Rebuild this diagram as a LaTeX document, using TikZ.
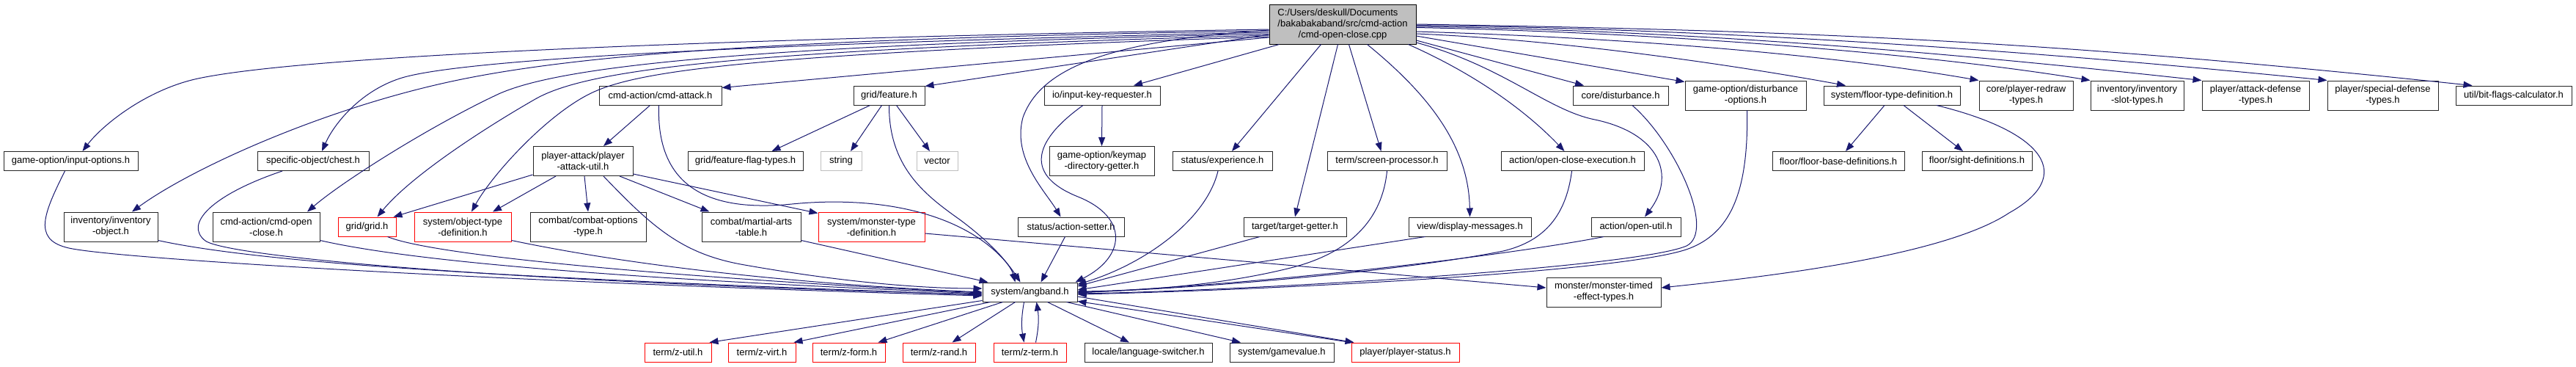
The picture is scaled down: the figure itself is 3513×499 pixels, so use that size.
\documentclass[tikz,border=0pt]{standalone}
\usepackage{fontspec}
\setmainfont{Liberation Sans}
\usetikzlibrary{arrows.meta}
\definecolor{edgeblue}{HTML}{191970}
\definecolor{rootgray}{HTML}{BFBFBF}
\tikzset{
    hdr/.style={
        draw=black!85, line width=1pt, fill=white,
        inner sep=0pt, minimum height=26pt, align=center,
        font=\fontsize{13}{15}\selectfont
    },
    hdrtwo/.style={hdr, minimum height=40pt},
    redhdr/.style={draw=red},
    grayhdr/.style={draw=rootgray},
    roothdr/.style={hdr, fill=rootgray, draw=black, minimum height=54pt},
    incl/.style={
        draw=edgeblue, line width=1pt,
        -{Triangle[length=12pt,width=9pt]}
    }
}

\begin{document}
\begin{tikzpicture}[x=1pt,y=-1pt]
    \useasboundingbox (0,0) rectangle (3513,499);
    \fill[white] (0,0) rectangle (3513,499);
    % the file itself
    \node[roothdr, minimum width=200pt] (root) at (1831,33)
        {\begin{tabular}{@{}l@{}}C:/Users/deskull/Documents\\/bakabakaband/src/cmd-action\\\multicolumn{1}{@{}c@{}}{/cmd-open-close.cpp}\end{tabular}};
    % direct includes
    \node[hdr, minimum width=167pt] (cmdattack) at (900.5,130) {cmd-action/cmd-attack.h};
    \node[hdr, minimum width=97pt] (feature) at (1212.5,130) {grid/feature.h};
    \node[hdr, minimum width=158pt] (inkey) at (1503,130) {io/input-key-requester.h};
    \node[hdr, minimum width=130pt] (disturb) at (2210,130) {core/disturbance.h};
    \node[hdrtwo, minimum width=165pt] (distopt) at (2380.5,130) {game-option/disturbance\\-options.h};
    \node[hdr, minimum width=186pt] (floortype) at (2580,130) {system/floor-type-definition.h};
    \node[hdrtwo, minimum width=128pt] (redraw) at (2763,130) {core/player-redraw\\-types.h};
    \node[hdrtwo, minimum width=127pt] (slottypes) at (2914.5,130) {inventory/inventory\\-slot-types.h};
    \node[hdrtwo, minimum width=146pt] (atkdef) at (3076,130) {player/attack-defense\\-types.h};
    \node[hdrtwo, minimum width=151pt] (specdef) at (3249.5,130) {player/special-defense\\-types.h};
    \node[hdr, minimum width=158pt] (bitflags) at (3428,130) {util/bit-flags-calculator.h};
    % third row
    \node[hdr, minimum width=183pt] (inopt) at (96.5,219.5) {game-option/input-options.h};
    \node[hdr, minimum width=152pt] (chest) at (427,219.5) {specific-object/chest.h};
    \node[hdrtwo, minimum width=136pt] (atkutil) at (795,219.5) {player-attack/player\\-attack-util.h};
    \node[hdr, minimum width=157pt] (flagtypes) at (1016.5,219.5) {grid/feature-flag-types.h};
    \node[hdr, grayhdr, minimum width=56pt] (string) at (1147,219.5) {string};
    \node[hdr, grayhdr, minimum width=56pt] (vector) at (1278,219.5) {vector};
    \node[hdrtwo, minimum width=143pt] (keymap) at (1502.5,219.5) {game-option/keymap\\-directory-getter.h};
    \node[hdr, minimum width=136pt] (experience) at (1667,219.5) {status/experience.h};
    \node[hdr, minimum width=163pt] (screenproc) at (1891.5,219.5) {term/screen-processor.h};
    \node[hdr, minimum width=195pt] (ocexec) at (2144.5,219.5) {action/open-close-execution.h};
    \node[hdr, minimum width=180pt] (floorbase) at (2507,219.5) {floor/floor-base-definitions.h};
    \node[hdr, minimum width=150pt] (sightdef) at (2696,219.5) {floor/sight-definitions.h};
    % fourth row
    \node[hdrtwo, minimum width=128pt] (invobj) at (151,309) {inventory/inventory\\-object.h};
    \node[hdrtwo, minimum width=146pt] (cmdopen) at (363,309) {cmd-action/cmd-open\\-close.h};
    \node[hdr, redhdr, minimum width=79pt] (grid) at (500.5,309) {grid/grid.h};
    \node[hdrtwo, redhdr, minimum width=132pt] (objtype) at (631,309) {system/object-type\\-definition.h};
    \node[hdrtwo, minimum width=158pt] (combatopt) at (802,309) {combat/combat-options\\-type.h};
    \node[hdrtwo, minimum width=135pt] (martial) at (1024.5,309) {combat/martial-arts\\-table.h};
    \node[hdrtwo, redhdr, minimum width=145pt] (montype) at (1188.5,309) {system/monster-type\\-definition.h};
    \node[hdr, minimum width=145pt] (actset) at (1460.5,309) {status/action-setter.h};
    \node[hdr, minimum width=140pt] (target) at (1766,309) {target/target-getter.h};
    \node[hdr, minimum width=167pt] (dispmsg) at (2004.5,309) {view/display-messages.h};
    \node[hdr, minimum width=122pt] (openutil) at (2231,309) {action/open-util.h};
    % fifth row
    \node[hdr, minimum width=129pt] (angband) at (1404.5,398) {system/angband.h};
    \node[hdrtwo, minimum width=156pt] (timedeff) at (2187,398) {monster/monster-timed\\-effect-types.h};
    % bottom row
    \node[hdr, redhdr, minimum width=91pt] (zutil) at (924.5,480) {term/z-util.h};
    \node[hdr, redhdr, minimum width=92pt] (zvirt) at (1039,480) {term/z-virt.h};
    \node[hdr, redhdr, minimum width=99pt] (zform) at (1157.5,480) {term/z-form.h};
    \node[hdr, redhdr, minimum width=99pt] (zrand) at (1280.5,480) {term/z-rand.h};
    \node[hdr, redhdr, minimum width=99pt] (zterm) at (1404.5,480) {term/z-term.h};
    \node[hdr, minimum width=174pt] (langsw) at (1566,480) {locale/language-switcher.h};
    \node[hdr, minimum width=142pt] (gameval) at (1748,480) {system/gamevalue.h};
    \node[hdr, redhdr, minimum width=147pt] (plstatus) at (1916.5,480) {player/player-status.h};

    % edges out of the file, left side
    \draw[incl] ([yshift=-7pt]root.west) .. controls (1000,52) and (420,75) .. (270,107) .. controls (200,122) and (140,170) .. ([xshift=16pt]inopt.north);
    \draw[incl] ([yshift=-9pt]root.west) .. controls (1100,52) and (800,72) .. (620,110) .. controls (440,148) and (260,230) .. ([xshift=29pt]invobj.north);
    \draw[incl] ([yshift=-11pt]root.west) .. controls (1000,60) and (620,82) .. (545,107) .. controls (490,125) and (455,170) .. ([xshift=12pt]chest.north);
    \draw[incl] ([yshift=-13pt]root.west) .. controls (1000,62) and (760,92) .. (680,128) .. controls (590,170) and (470,245) .. ([xshift=56pt]cmdopen.north);
    \draw[incl] ([yshift=-15pt]root.west) .. controls (1000,68) and (800,95) .. (730,135) .. controls (660,175) and (560,240) .. ([xshift=14pt]grid.north);
    \draw[incl] ([yshift=-17pt]root.west) .. controls (1000,74) and (860,98) .. (800,130) .. controls (740,162) and (670,240) .. ([xshift=12pt]objtype.north);
    \draw[incl] ([yshift=-18pt]root.west) -- ([yshift=-3pt]cmdattack.north east);
    \draw[incl] ([yshift=-14pt]root.west) -- ([yshift=-1pt]feature.north east);
    \draw[incl] ([xshift=14pt]root.south west) -- ([xshift=43pt]inkey.north);
    \draw[incl] ([yshift=-8pt]root.west) .. controls (1520,55) and (1420,90) .. (1395,160) .. controls (1380,215) and (1425,260) .. ([xshift=-14pt]actset.north);
    % edges out of the file, bottom and right side
    \draw[incl] ([xshift=71pt]root.south west) -- ([xshift=13pt]experience.north);
    \draw[incl] ([xshift=94pt]root.south west) -- (target.north);
    \draw[incl] ([xshift=109pt]root.south west) -- ([xshift=-8pt]screenproc.north);
    \draw[incl] ([xshift=134pt]root.south west) .. controls (1950,130) and (2003,200) .. (dispmsg.north);
    \draw[incl] ([xshift=-11pt]root.south east) .. controls (2010,100) and (2080,150) .. ([xshift=-11pt]ocexec.north);
    \draw[incl] ([yshift=-25pt]root.east) .. controls (2050,90) and (2110,150) .. (2175,163) .. controls (2265,182) and (2285,240) .. ([xshift=12pt]openutil.north);
    \draw[incl] ([yshift=-22pt]root.east) -- ([xshift=-50pt]disturb.north);
    \draw[incl] ([yshift=-16pt]root.east) -- ([yshift=-2pt]distopt.north west);
    \draw[incl] ([yshift=-13pt]root.east) .. controls (2150,55) and (2400,95) .. ([xshift=-63pt]floortype.north);
    \draw[incl] ([yshift=-10pt]root.east) .. controls (2230,52) and (2500,75) .. (redraw.north west);
    \draw[incl] ([yshift=-4.5pt]root.east) .. controls (2290,45) and (2640,75) .. (slottypes.north west);
    \draw[incl] ([yshift=-3pt]root.east) .. controls (2350,42) and (2730,80) .. (atkdef.north west);
    \draw[incl] ([yshift=-1.5pt]root.east) .. controls (2420,40) and (2880,80) .. (specdef.north west);
    \draw[incl] (root.east) .. controls (2490,42) and (2815,58) .. ([xshift=23pt]bitflags.north west);

    % second level
    \draw[incl] ([xshift=-14pt]cmdattack.south) -- ([xshift=28pt]atkutil.north);
    \draw[incl] ([xshift=-2pt]cmdattack.south) .. controls (895,250) and (960,290) .. (1080,278) .. controls (1200,266) and (1330,290) .. ([xshift=-13pt]angband.north);
    \draw[incl] ([xshift=-26pt]feature.south) -- ([xshift=36pt]flagtypes.north);
    \draw[incl] ([xshift=-10pt]feature.south) -- ([xshift=13pt]string.north);
    \draw[incl] ([xshift=10pt]feature.south) -- ([xshift=-10pt]vector.north);
    \draw[incl] (feature.south) .. controls (1212,230) and (1265,268) .. (1310,300) .. controls (1350,330) and (1378,360) .. ([xshift=-20pt]angband.north);
    \draw[incl] (inkey.south) -- (keymap.north);
    \draw[incl] ([xshift=-26pt]inkey.south) .. controls (1405,195) and (1400,240) .. (1470,268) .. controls (1540,296) and (1535,350) .. ([xshift=-3pt]angband.north east);
    \draw[incl] ([xshift=-10pt]floortype.south) -- ([xshift=10pt]floorbase.north);
    \draw[incl] ([xshift=16pt]floortype.south) -- ([xshift=-19pt]sightdef.north);
    \draw[incl] ([xshift=61pt]floortype.south) .. controls (2790,180) and (2830,240) .. (2740,290) .. controls (2650,350) and (2400,378) .. ([yshift=6pt]timedeff.east);
    \draw[incl] ([xshift=2pt]distopt.south) .. controls (2385,270) and (2355,318) .. (2305,338) .. controls (2220,372) and (1700,396) .. ([yshift=-3pt]angband.east);
    \draw[incl] ([xshift=16pt]disturb.south) .. controls (2285,195) and (2340,315) .. (2300,335) .. controls (2230,365) and (1700,396) .. ([yshift=-2pt]angband.east);

    % player-attack-util
    \draw[incl] ([yshift=2pt]atkutil.south west) -- ([xshift=-4pt]grid.north east);
    \draw[incl] ([xshift=-37pt]atkutil.south) -- ([xshift=41pt]objtype.north);
    \draw[incl] ([xshift=2pt]atkutil.south) -- (combatopt.north);
    \draw[incl] ([xshift=50pt]atkutil.south) -- ([xshift=-57pt]martial.north);
    \draw[incl] ([yshift=3pt]atkutil.south east) -- ([yshift=-2pt]montype.north west);
    \draw[incl] ([xshift=28pt]atkutil.south) .. controls (890,310) and (930,345) .. (1010,360) .. controls (1150,385) and (1260,393) .. ([yshift=5pt]angband.west);

    % into system/angband.h from the left
    \draw[incl] ([xshift=-8pt]inopt.south) .. controls (60,290) and (45,325) .. (90,337) .. controls (140,352) and (700,385) .. ([yshift=-5pt]angband.west);
    \draw[incl] ([yshift=2pt]invobj.south east) .. controls (400,368) and (900,385) .. ([yshift=-4pt]angband.west);
    \draw[incl] ([xshift=-42pt]chest.south) .. controls (290,265) and (250,305) .. (280,328) .. controls (310,350) and (700,385) .. ([yshift=-3pt]angband.west);
    \draw[incl] ([yshift=2pt]cmdopen.south east) .. controls (600,365) and (1000,386) .. ([yshift=-2pt]angband.west);
    \draw[incl] ([xshift=28pt]grid.south) .. controls (600,352) and (1000,383) .. ([yshift=-1pt]angband.west);
    \draw[incl] ([yshift=2pt]objtype.south east) .. controls (900,370) and (1150,390) .. (angband.west);
    \draw[incl] ([yshift=2pt]martial.south east) -- ([xshift=8pt]angband.north west);
    \draw[incl] ([yshift=-9pt]montype.east) -- ([yshift=6pt]timedeff.west);

    % into system/angband.h from the right
    \draw[incl] ([xshift=-8pt]actset.south) -- ([xshift=15pt]angband.north);
    \draw[incl] ([xshift=-6pt]experience.south) .. controls (1645,300) and (1560,360) .. ([yshift=-3pt]angband.north east);
    \draw[incl] ([xshift=-48pt]target.south) -- ([yshift=8pt]angband.east);
    \draw[incl] (screenproc.south) .. controls (1885,300) and (1840,345) .. (1760,365) .. controls (1660,390) and (1550,396) .. ([yshift=1pt]angband.east);
    \draw[incl] ([xshift=-61pt]dispmsg.south) -- ([yshift=3pt]angband.east);
    \draw[incl] ([xshift=-1pt]ocexec.south) .. controls (2135,300) and (2100,330) .. (2050,342) .. controls (1900,372) and (1600,395) .. (angband.east);
    \draw[incl] ([xshift=-44pt]openutil.south) .. controls (2100,340) and (1800,382) .. ([yshift=-1pt]angband.east);

    % out of system/angband.h
    \draw[incl] ([yshift=2pt]angband.south west) -- ([xshift=-3pt]zutil.north east);
    \draw[incl] ([xshift=11pt]angband.south west) -- ([xshift=-3pt]zvirt.north east);
    \draw[incl] ([xshift=28pt]angband.south west) -- ([xshift=-10pt]zform.north east);
    \draw[incl] ([xshift=45pt]angband.south west) -- ([xshift=18pt]zrand.north);
    \draw[incl] ([xshift=-8pt]angband.south) to[bend right=10] ([xshift=-8pt]zterm.north);
    \draw[incl] ([xshift=8pt]zterm.north) to[bend right=10] ([xshift=9pt]angband.south);
    \draw[incl] ([xshift=24pt]angband.south) -- ([xshift=-26pt]langsw.north);
    \draw[incl] ([xshift=-15pt]angband.south east) -- ([xshift=-56pt]gameval.north);
    \draw[incl] ([yshift=-6pt]angband.east) -- ([xshift=4pt]plstatus.north west);
    \draw[incl] (plstatus.north west) -- ([yshift=1pt]angband.south east);
\end{tikzpicture}
\end{document}
